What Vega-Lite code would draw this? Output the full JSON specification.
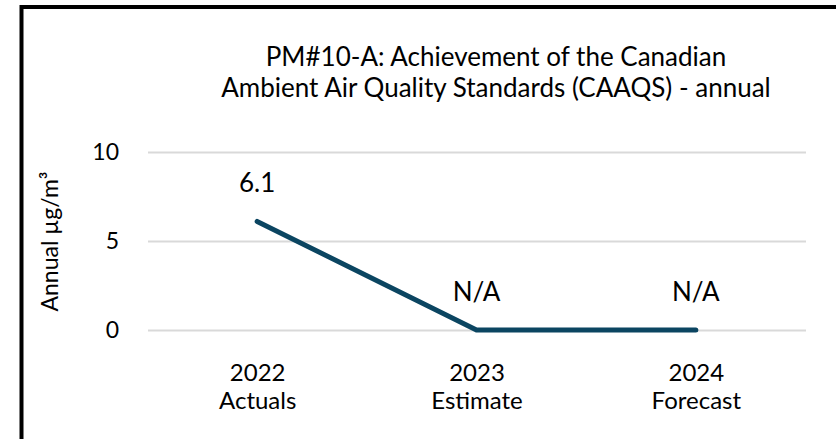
{
  "$schema": "https://vega.github.io/schema/vega-lite/v6.json",
  "autosize": {"type": "none"},
  "width": 949,
  "height": 470,
  "padding": {"left": 21.5, "top": 7, "right": -134.5, "bottom": -38},
  "background": "white",
  "title": {
    "text": ["PM#10-A: Achievement of the Canadian", "Ambient Air Quality Standards (CAAQS) - annual"],
    "font": "Lato",
    "fontSize": 26,
    "fontWeight": "normal",
    "color": "#000000",
    "anchor": "middle",
    "lineHeight": 31,
    "dy": 99
  },
  "config": {
    "view": {"stroke": "#000000", "strokeWidth": 4},
    "font": "Lato"
  },
  "data": {
    "values": [
      {"period": "2022|Actuals", "value": 6.1, "label": "6.1"},
      {"period": "2023|Estimate", "value": 0, "label": "N/A"},
      {"period": "2024|Forecast", "value": 0, "label": "N/A"}
    ]
  },
  "encoding": {
    "x": {
      "field": "period",
      "type": "ordinal",
      "sort": null,
      "scale": {"type": "point", "range": [126, 784], "padding": 0.5},
      "axis": {
        "title": null,
        "orient": "bottom",
        "offset": -147,
        "domain": false,
        "ticks": false,
        "grid": false,
        "labelAngle": 0,
        "labelExpr": "split(datum.value, '|')",
        "labelFont": "Lato",
        "labelFontSize": 24,
        "labelLineHeight": 28,
        "labelColor": "#000000",
        "labelPadding": 31
      }
    },
    "y": {
      "field": "value",
      "type": "quantitative",
      "scale": {"domain": [0, 10], "range": [323, 145], "nice": false, "zero": false},
      "axis": {
        "title": "Annual µg/m³",
        "values": [0, 5, 10],
        "offset": -126,
        "domain": false,
        "ticks": false,
        "grid": true,
        "gridColor": "#d9d9d9",
        "gridWidth": 2,
        "labelFont": "Lato",
        "labelFontSize": 23,
        "labelColor": "#000000",
        "labelPadding": 29,
        "titleFont": "Lato",
        "titleFontSize": 23,
        "titleFontWeight": "normal",
        "titleColor": "#000000",
        "titlePadding": 29
      }
    }
  },
  "layer": [
    {
      "mark": {"type": "line", "color": "#0b4561", "strokeWidth": 5, "strokeCap": "round", "strokeJoin": "miter"}
    },
    {
      "mark": {"type": "text", "font": "Lato", "fontSize": 26, "color": "#000000", "baseline": "middle", "dy": -37},
      "encoding": {"text": {"field": "label"}}
    }
  ]
}
